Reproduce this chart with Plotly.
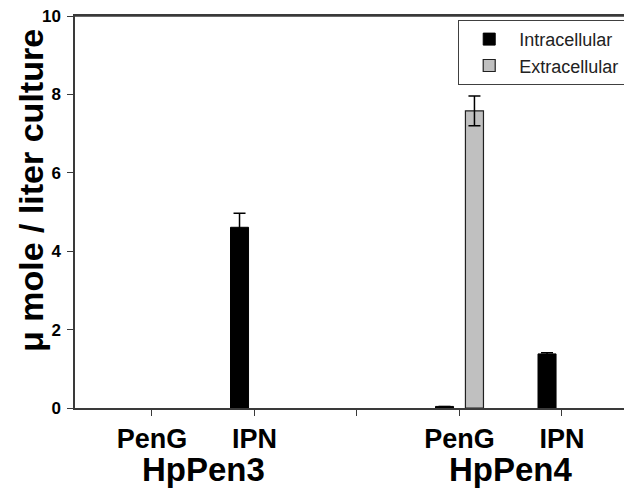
import plotly.graph_objects as go

# Data
positions = [1, 2, 4, 5]
tick_positions = [1, 2, 3, 4, 5]
tick_labels = ["PenG", "IPN", "", "PenG", "IPN"]
group_labels = ["HpPen3", "HpPen4"]
group_centers = [1.5, 4.5]

intracellular = [None, 4.61, 0.04, 1.38]
intracellular_err = [None, 0.36, None, 0.03]
extracellular = [None, None, 7.58, None]
extracellular_err = [None, None, 0.38, None]

FONT = "Liberation Sans, Arial, sans-serif"
AXIS_COLOR = "#3a3a3a"

bar_w = 0.176
shift = 0.146

fig = go.Figure()
fig.add_trace(go.Bar(
    x=positions, y=intracellular, name="Intracellular",
    width=bar_w, offset=-shift - bar_w / 2,
    marker=dict(color="#000000", line=dict(color="#000000", width=1)),
    error_y=dict(type="data", array=intracellular_err, visible=True,
                 color="#000000", thickness=1.5, width=6),
))
fig.add_trace(go.Bar(
    x=positions, y=extracellular, name="Extracellular",
    width=bar_w, offset=shift - bar_w / 2,
    marker=dict(color="#c0c0c0", line=dict(color="#202020", width=1.2)),
    error_y=dict(type="data", array=extracellular_err, visible=True,
                 color="#000000", thickness=1.5, width=6),
))

for lbl, cx in zip(group_labels, group_centers):
    fig.add_annotation(
        x=cx, xref="x", y=-0.105, yref="paper", text=lbl, showarrow=False,
        xanchor="center", yanchor="top",
        font=dict(family=FONT, size=33, color="#000000", weight="bold"),
    )

fig.add_annotation(
    x=-0.079, xref="paper", y=0.556, yref="paper",
    text="μ mole / liter culture", textangle=-90, showarrow=False,
    xanchor="center", yanchor="middle",
    font=dict(family=FONT, size=34, color="#000000", weight="bold"),
)

# top frame line of the plot area
fig.add_shape(type="line", xref="paper", yref="paper", x0=0, x1=1, y0=1, y1=1,
              line=dict(color=AXIS_COLOR, width=1.5), layer="above")

fig.update_layout(
    width=624, height=484,
    margin=dict(l=67, r=0, t=8, b=84),
    paper_bgcolor="white", plot_bgcolor="white",
    barmode="overlay",
    showlegend=True,
    legend=dict(
        x=0.688, y=0.99, xanchor="left", yanchor="top",
        bordercolor="#404040", borderwidth=1, bgcolor="white",
        font=dict(family=FONT, size=18, color="#222222"),
        tracegroupgap=0, itemwidth=50,
    ),
    xaxis=dict(
        range=[0.249, 5.683], tickmode="array", tickvals=tick_positions,
        ticktext=tick_labels, ticks="outside", ticklen=6, tickwidth=1.2,
        tickcolor=AXIS_COLOR, showline=True, linecolor=AXIS_COLOR, linewidth=1.5,
        mirror=True, showgrid=False, zeroline=False,
        tickfont=dict(family=FONT, size=27, color="#000000", weight="bold"),
    ),
    yaxis=dict(
        range=[0, 10], tickmode="array", tickvals=[0, 2, 4, 6, 8, 10],
        ticks="outside", ticklen=6, tickwidth=1.2, tickcolor=AXIS_COLOR,
        showline=True, linecolor=AXIS_COLOR, linewidth=1.5,
        showgrid=False, zeroline=False, ticklabeloverflow="allow",
        ticklabelstandoff=3,
        tickfont=dict(family=FONT, size=17, color="#000000", weight="bold"),
    ),
)

fig.write_html("out.html")
